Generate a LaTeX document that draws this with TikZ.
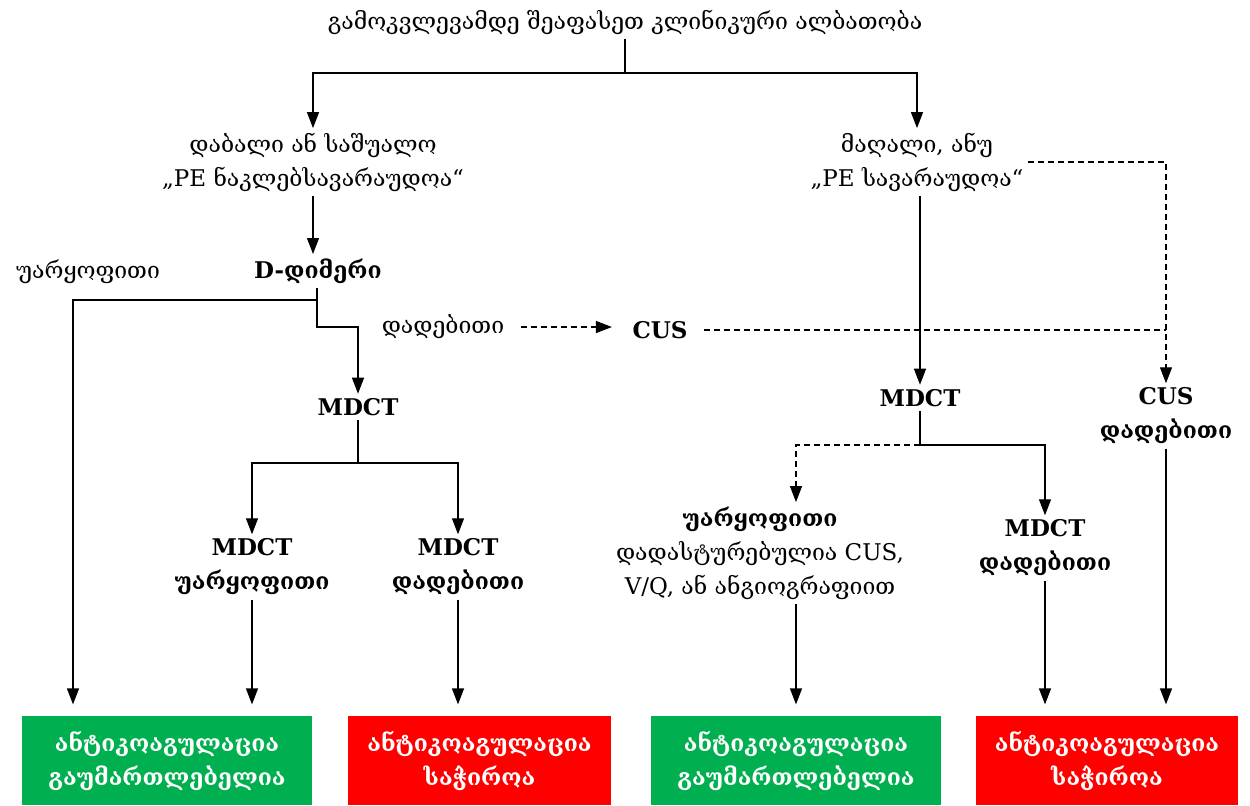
\documentclass[tikz,border=0pt]{standalone}
\usepackage{fontspec}
\setmainfont{DejaVu Serif}
\usepackage{tikz}
\usetikzlibrary{arrows.meta}
\definecolor{okgreen}{HTML}{00B050}
\definecolor{alarmred}{HTML}{FF0000}
\newcommand{\fsz}{\fontsize{11.5}{17}\selectfont}
\tikzset{
  txt/.style={align=center, font=\fsz, inner sep=2pt},
  bld/.style={txt, font=\fsz\bfseries},
  arr/.style={-{Triangle[length=8pt,width=6pt]}},
  dsh/.style={dash pattern=on 3pt off 2pt},
  outcome/.style={minimum height=44.5pt, inner sep=0pt, text=white, align=center, font=\fsz\bfseries}
}
\begin{document}
\begin{tikzpicture}[x=0.5pt, y=-0.5pt, line width=0.6pt]
\useasboundingbox (0,0) rectangle (1250,805);
% top
\node[txt] (title) at (625,22) {გამოკვლევამდე შეაფასეთ კლინიკური ალბათობა};
\coordinate (split) at (625,73);
\node[txt] (low) at (313,162) {დაბალი ან საშუალო\\„PE ნაკლებსავარაუდოა“};
\node[txt] (high) at (917,162) {მაღალი, ანუ\\„PE სავარაუდოა“};
% left branch
\node[bld] (ddimer) at (318,271) {D-დიმერი};
\node[txt] (neg) at (88,272) {უარყოფითი};
\node[txt] (pos) at (443,327) {დადებითი};
\node[bld] (cusA) at (660,330) {CUS};
\node[bld] (mdctL) at (358,407) {MDCT};
\node[bld] (mdctLneg) at (252,567) {MDCT\\უარყოფითი};
\node[bld] (mdctLpos) at (458,567) {MDCT\\დადებითი};
% right branch
\node[bld] (mdctR) at (920,398) {MDCT};
\node[bld] (cusR) at (1166,416) {CUS\\დადებითი};
\node[txt] (negR) at (760,553) {\textbf{უარყოფითი}\\დადასტურებულია CUS,\\V/Q, ან ანგიოგრაფიით};
\node[bld] (mdctRpos) at (1045,548) {MDCT\\დადებითი};
% outcomes
\node[outcome, fill=okgreen, minimum width=145pt] (box1) at (167,760.5) {ანტიკოაგულაცია\\გაუმართლებელია};
\node[outcome, fill=alarmred, minimum width=131.5pt] (box2) at (479.5,760.5) {ანტიკოაგულაცია\\საჭიროა};
\node[outcome, fill=okgreen, minimum width=145pt] (box3) at (796,760.5) {ანტიკოაგულაცია\\გაუმართლებელია};
\node[outcome, fill=alarmred, minimum width=131pt] (box4) at (1107,760.5) {ანტიკოაგულაცია\\საჭიროა};
\coordinate (dsplit) at (317,300);
\coordinate (negdrop) at (73,300);
\coordinate (lsplit) at (358,463);
\coordinate (rsplit) at (920,445);
% connectors
\draw (title) -- (split);
\draw[arr] (split) -| (low.north);
\draw[arr] (split) -| (high.north);
\draw[arr] (low.south) -- (low.south |- ddimer.north);
\draw (ddimer.south -| dsplit) -- (dsplit);
\draw[arr, shorten >=5.5pt] (dsplit) -- (negdrop) -- (negdrop |- box1.north);
\draw[arr] (dsplit) |- (mdctL.north |- pos) -- (mdctL.north);
\draw[arr, dsh, shorten <=6pt, shorten >=8pt] (pos.east) -- (pos.east -| cusA.west);
\draw[dsh, shorten <=6pt] (cusA.east) -- (cusA -| cusR);
\draw[arr, dsh] (high.east) -| (cusR.north);
\draw[arr] (high.south -| mdctR) -- (mdctR.north);
\draw (mdctL.south) -- (lsplit);
\draw[arr] (lsplit) -| (mdctLneg.north);
\draw[arr] (lsplit) -| (mdctLpos.north);
\draw (mdctR.south) -- (rsplit);
\draw[arr, dsh] (rsplit) -| (box3.north |- negR.north);
\draw[arr] (rsplit) -| (mdctRpos.north);
\draw[arr, shorten >=5.5pt] (mdctLneg.south) -- (mdctLneg.south |- box1.north);
\draw[arr, shorten >=5.5pt] (mdctLpos.south) -- (mdctLpos.south |- box2.north);
\draw[arr, shorten >=5.5pt] (box3.north |- negR.south) -- (box3.north);
\draw[arr, shorten >=5.5pt] (mdctRpos.south) -- (mdctRpos.south |- box4.north);
\draw[arr, shorten >=5.5pt] (cusR.south) -- (cusR.south |- box4.north);
\end{tikzpicture}
\end{document}
